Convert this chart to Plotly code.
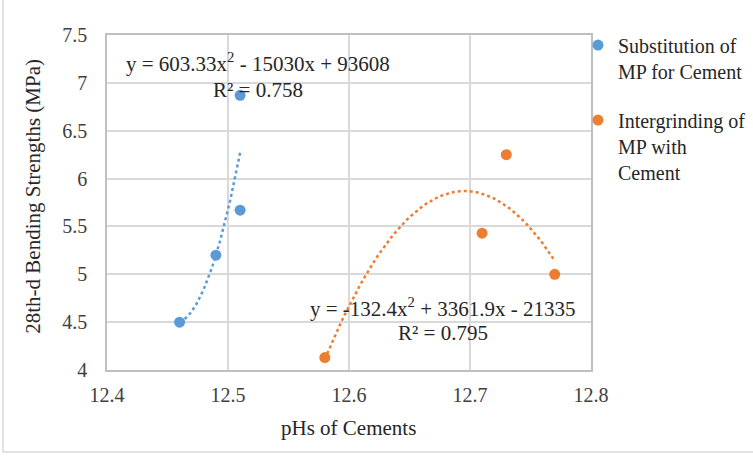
import numpy as np
import plotly.graph_objects as go

# Data
sub_ph = [12.46, 12.49, 12.51, 12.51]
sub_strength = [4.50, 5.20, 5.67, 6.87]
int_ph = [12.58, 12.71, 12.73, 12.77]
int_strength = [4.13, 5.43, 6.25, 5.00]
sub_name = "Substitution of<br>MP for Cement"
int_name = "Intergrinding of<br>MP with<br>Cement"
sub_eq = "y = 603.33x<sup>2</sup> - 15030x + 93608"
sub_r2 = "R² = 0.758"
int_eq = "y = -132.4x<sup>2</sup> + 3361.9x - 21335"
int_r2 = "R² = 0.795"
x_title = "pHs of Cements"
y_title = "28th-d Bending Strengths (MPa)"
x_ticks = [12.4, 12.5, 12.6, 12.7, 12.8]
y_ticks = [4, 4.5, 5, 5.5, 6, 6.5, 7, 7.5]

BLUE = "#5b9bd5"
ORANGE = "#ed7d31"
FONT = "Liberation Serif"
TXT = "#262626"

def trend(xs, ys):
    c = np.polyfit(xs, ys, 2)
    xx = np.linspace(min(xs), max(xs), 60)
    return xx, np.polyval(c, xx)

fig = go.Figure()
bx, by = trend(sub_ph, sub_strength)
ox, oy = trend(int_ph, int_strength)
fig.add_trace(go.Scatter(x=bx, y=by, mode="lines", line=dict(color=BLUE, width=2.5, dash="dot"),
                         showlegend=False, hoverinfo="skip"))
fig.add_trace(go.Scatter(x=ox, y=oy, mode="lines", line=dict(color=ORANGE, width=2.5, dash="dot"),
                         showlegend=False, hoverinfo="skip"))
fig.add_trace(go.Scatter(x=sub_ph, y=sub_strength, mode="markers", name=sub_name, legendgroup="a",
                         marker=dict(color=BLUE, size=11)))
fig.add_trace(go.Scatter(x=int_ph, y=int_strength, mode="markers", name=int_name, legendgroup="b",
                         marker=dict(color=ORANGE, size=11)))

def ann(x, y, text, xref="x", yref="y", size=21, angle=0):
    fig.add_annotation(x=x, y=y, xref=xref, yref=yref, text=text, showarrow=False,
                       xanchor="center", yanchor="middle", textangle=angle,
                       font=dict(family=FONT, size=size, color=TXT))

ann(12.525, 7.21, sub_eq)
ann(12.525, 6.93, sub_r2)
ann(12.678, 4.65, int_eq)
ann(12.678, 4.39, int_r2)
ann(0.498, -0.173, x_title, xref="paper", yref="paper", size=21)
ann(-0.153, 0.52, y_title, xref="paper", yref="paper", size=21, angle=-90)

# outer chart border (left and bottom visible)
fig.add_shape(type="rect", xref="paper", yref="paper",
              x0=(3 - 107) / 484, x1=(820 - 107) / 484, y0=(370 - 452) / 335, y1=(370 + 20) / 335,
              line=dict(color="#d9d9d9", width=1.5), layer="below")

fig.update_layout(
    width=753, height=457,
    margin=dict(l=107, r=162, t=35, b=87, autoexpand=False),
    paper_bgcolor="white", plot_bgcolor="white",
    font=dict(family=FONT, size=20, color="#404040"),
    legend=dict(x=(578 - 107) / 484, y=1.028, xanchor="left", yanchor="top", valign="top",
                font=dict(family=FONT, size=20, color=TXT),
                tracegroupgap=20, itemwidth=30, bgcolor="rgba(0,0,0,0)"),
    showlegend=True,
)
fig.update_xaxes(range=[12.4, 12.8], tickvals=x_ticks, ticktext=[str(v) for v in x_ticks],
                 showgrid=True, gridcolor="#d9d9d9", gridwidth=1.5,
                 showline=True, linecolor="#bfbfbf", linewidth=1.5, mirror=True,
                 zeroline=False, ticks="outside", ticklen=6, tickcolor="rgba(0,0,0,0)",
                 tickfont=dict(family=FONT, size=20, color="#404040"))
fig.update_yaxes(range=[4, 7.5], tickvals=y_ticks, ticktext=[("%g" % v) for v in y_ticks],
                 showgrid=True, gridcolor="#d9d9d9", gridwidth=1.5,
                 showline=True, linecolor="#bfbfbf", linewidth=1.5, mirror=True,
                 zeroline=False, ticks="outside", ticklen=14, tickcolor="rgba(0,0,0,0)",
                 tickfont=dict(family=FONT, size=20, color="#404040"))

fig.write_html("out.html")
